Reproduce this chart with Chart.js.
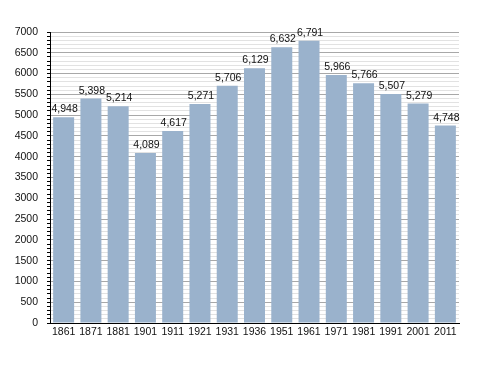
<!DOCTYPE html>
<html>
<head>
<meta charset="utf-8">
<script src="https://cdn.jsdelivr.net/npm/chart.js@4/dist/chart.umd.min.js"></script>
<style>
  html, body { margin: 0; padding: 0; background: #fff; }
  #wrap { width: 488px; height: 373px; }
</style>
</head>
<body>
<div id="wrap"><canvas id="popChart" width="488" height="373"></canvas></div>
<script>
// census years and population
const years = ['1861', '1871', '1881', '1901', '1911', '1921', '1931', '1936', '1951', '1961', '1971', '1981', '1991', '2001', '2011'];
const population = [4948, 5398, 5214, 4089, 4617, 5271, 5706, 6129, 6632, 6791, 5966, 5766, 5507, 5279, 4748];
const yMax = 7000;
const yStep = 100;
const yLabelStep = 500;

const FONT = 'Liberation Sans, Arial, Helvetica, sans-serif';

// draws the value above each bar
const valueLabels = {
  id: 'valueLabels',
  afterDatasetsDraw(chart) {
    const ctx = chart.ctx;
    ctx.save();
    ctx.font = '10.5px ' + FONT;
    ctx.fillStyle = '#111';
    ctx.textAlign = 'center';
    ctx.textBaseline = 'alphabetic';
    chart.getDatasetMeta(0).data.forEach((bar, i) => {
      ctx.fillText(population[i].toLocaleString('en-US'), bar.x + 1, bar.y - 5);
    });
    ctx.restore();
  }
};

new Chart(document.getElementById('popChart'), {
  type: 'bar',
  data: {
    labels: years,
    datasets: [{
      data: population,
      backgroundColor: '#9ab2cc',
      borderWidth: 0,
      barPercentage: 0.77,
      categoryPercentage: 1
    }]
  },
  options: {
    responsive: false,
    animation: false,
    layout: { padding: { top: 32, right: 29, left: 0, bottom: 0 } },
    plugins: {
      legend: { display: false },
      tooltip: { enabled: false }
    },
    scales: {
      x: {
        offset: true,
        grid: { display: false, drawTicks: false, tickLength: 0 },
        border: { display: true, color: '#000', width: 1 },
        ticks: { color: '#111', font: { family: FONT, size: 10.5 }, padding: 3, maxRotation: 0, autoSkip: false },
        afterFit(scale) { scale.height = 50; }
      },
      y: {
        min: 0,
        max: yMax,
        border: { display: true, color: '#000', width: 1 },
        grid: {
          color: (c) => (c.tick && c.tick.value % yLabelStep === 0 ? '#a8a8a8' : '#e2e2e2'),
          tickColor: '#000',
          tickLength: 3,
          drawTicks: true
        },
        ticks: {
          stepSize: yStep,
          autoSkip: false,
          color: '#111',
          padding: 9,
          font: { family: FONT, size: 10.5 },
          callback: (v) => (v % yLabelStep === 0 ? String(v) : '')
        },
        afterFit(scale) { scale.width = 50; }
      }
    }
  },
  plugins: [valueLabels]
});
</script>
</body>
</html>
